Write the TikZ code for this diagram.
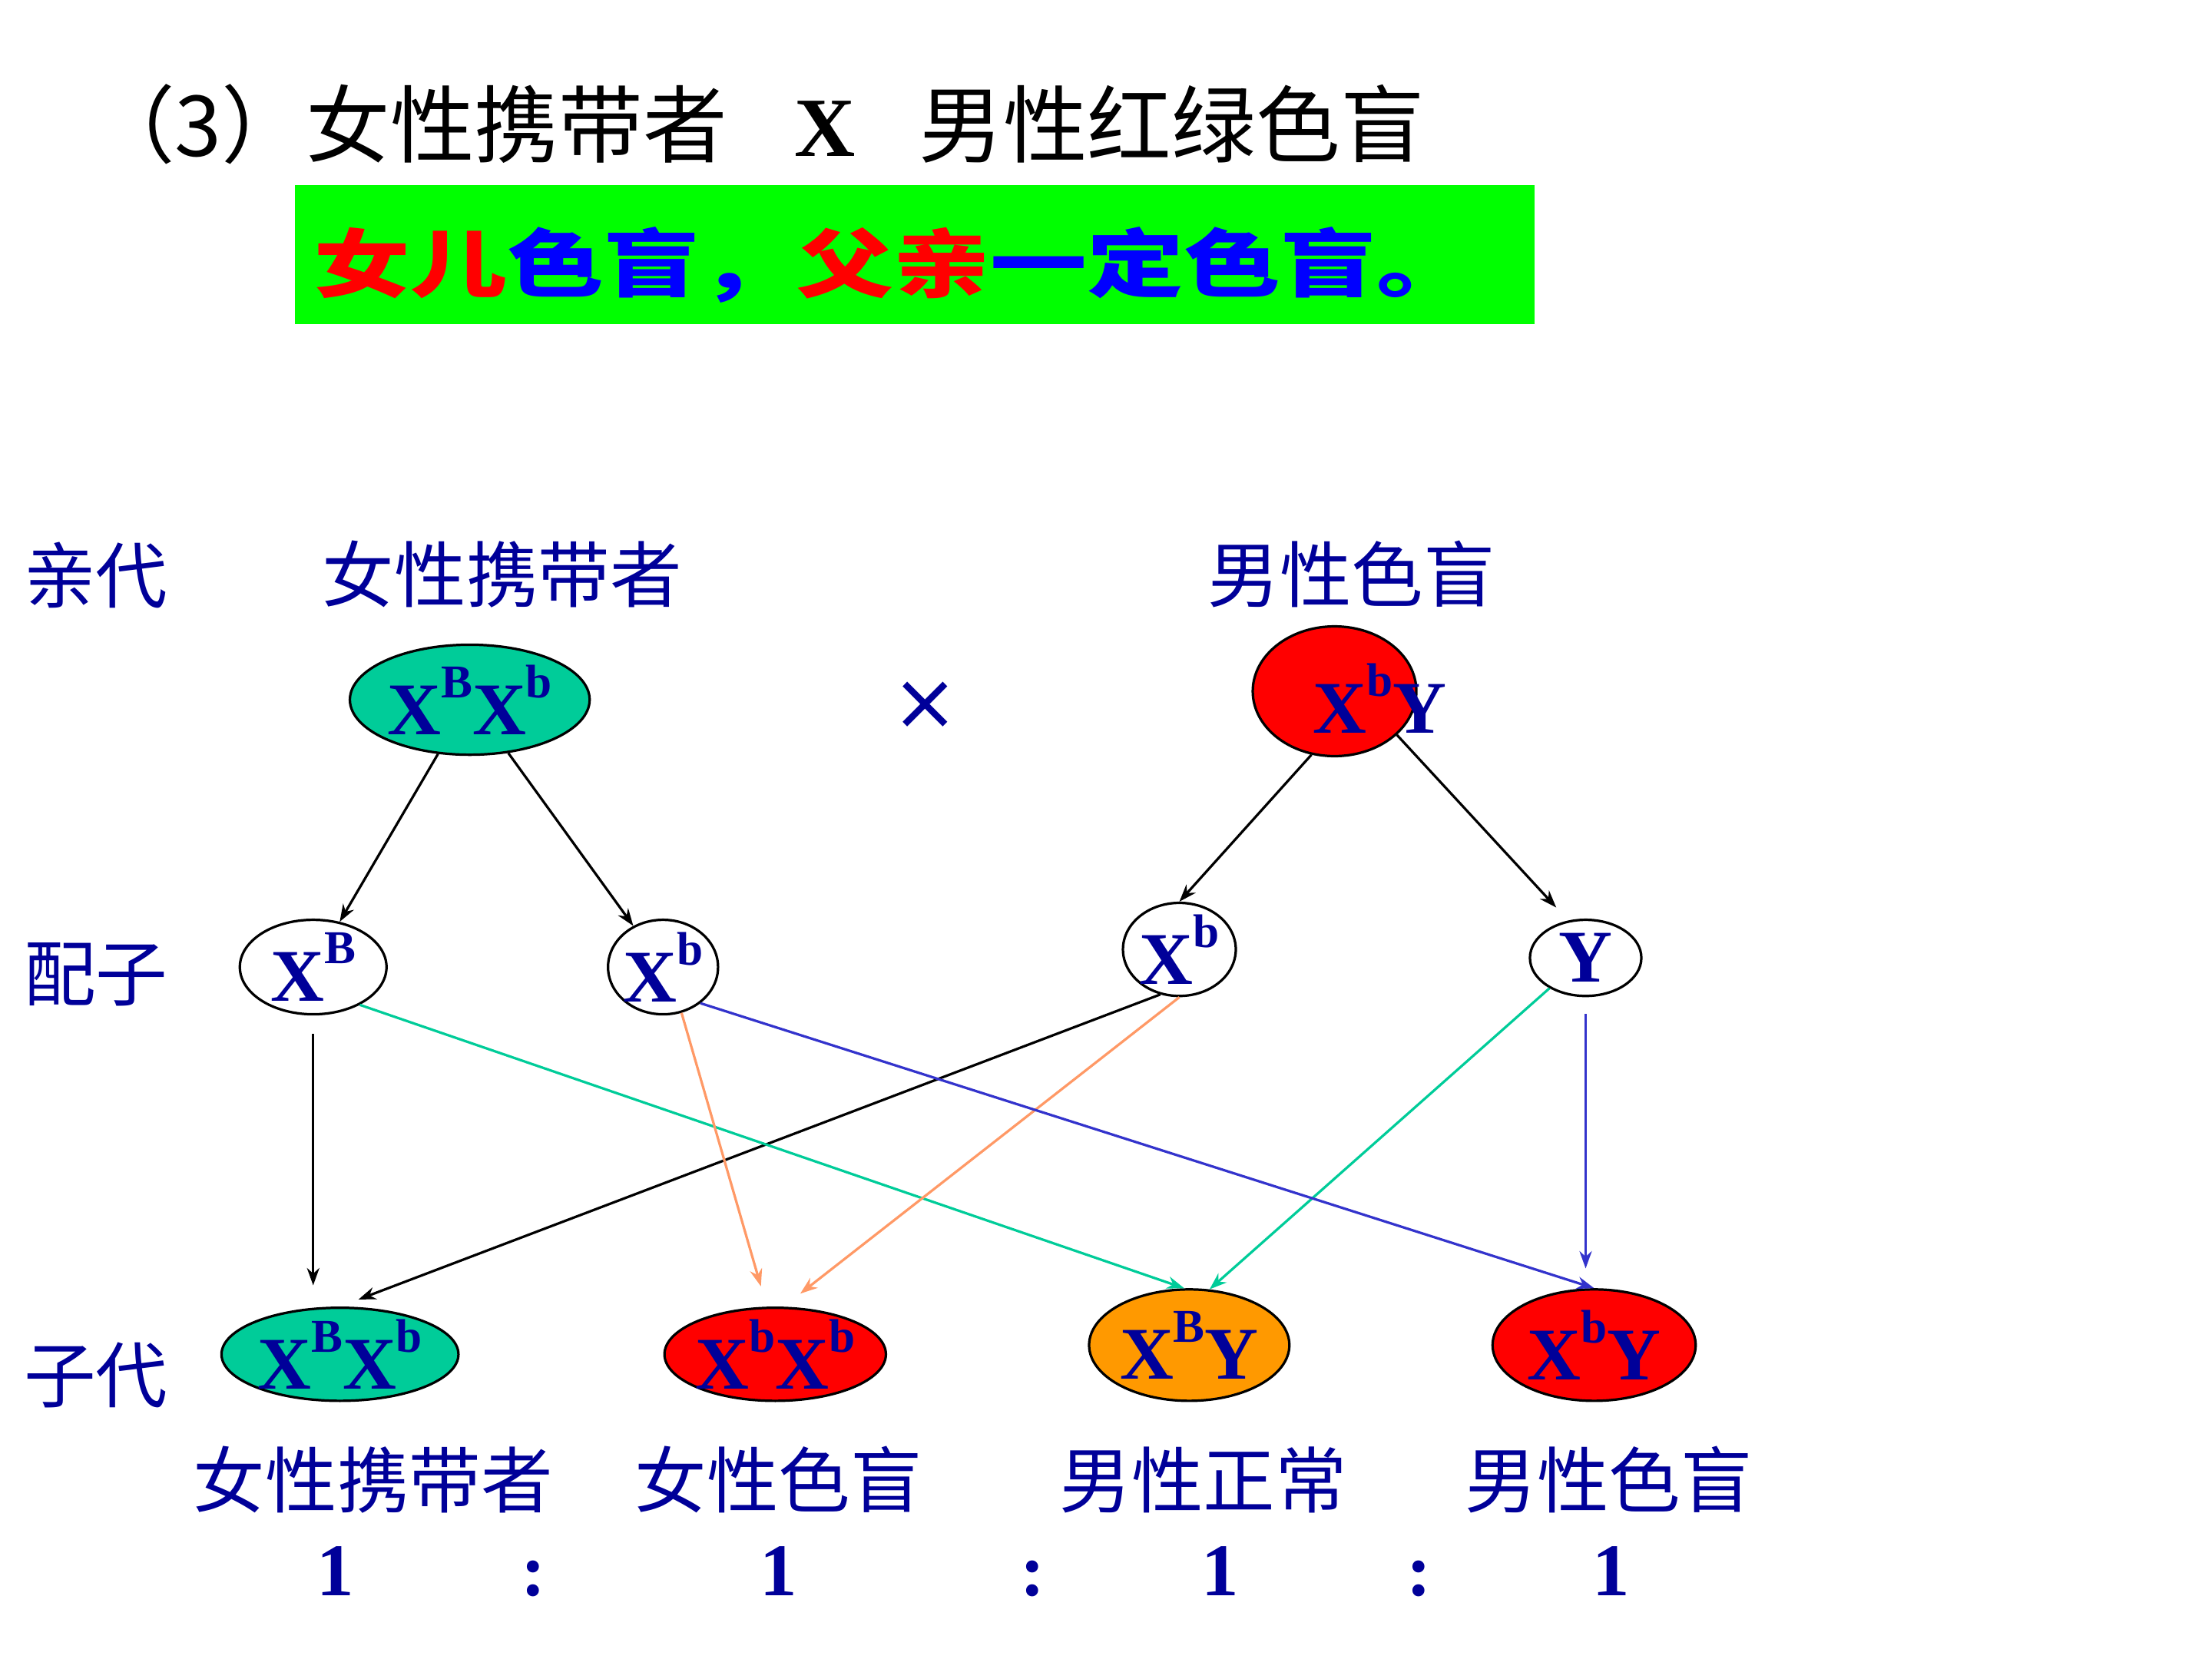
\documentclass[tikz,border=0pt]{standalone}
\usepackage{fontspec}
\setmainfont{Liberation Serif}
\newfontfamily\cjk{Noto Sans CJK SC}
\newfontfamily\boxfont{Noto Sans CJK SC}[FakeStretch=1.3]
\newfontfamily\symfont{DejaVu Sans}
\usetikzlibrary{shapes.geometric,arrows.meta}

\definecolor{navy}{RGB}{0,0,153}
\definecolor{tealfill}{RGB}{0,204,153}
\definecolor{orangefill}{RGB}{255,153,0}
\definecolor{peach}{RGB}{255,153,102}
\definecolor{indigo}{RGB}{51,51,204}
\definecolor{boxgreen}{RGB}{0,255,0}

\newcommand{\genefont}{\fontsize{30pt}{30pt}\selectfont\bfseries}
\newcommand{\sups}[1]{\raisebox{0.5em}{\fontsize{19pt}{19pt}\selectfont #1}}

\tikzset{
  gene/.style={ellipse, draw, line width=1pt, inner sep=-2pt, text=navy, font=\genefont},
  tag/.style={text=navy, font=\cjk\fontsize{29pt}{29pt}\selectfont, inner sep=0pt},
  ratio/.style={text=navy, font=\genefont, inner sep=0pt, anchor=base},
  link/.style={-{Stealth[length=7pt,width=5pt]}, line width=1pt},
}

\begin{document}
\begin{tikzpicture}[x=0.02cm, y=-0.02cm]
\useasboundingbox (0,0) rectangle (1568,1176);

% heading
\node[anchor=west, inner sep=0pt, font=\cjk\fontsize{34pt}{34pt}\selectfont] (title) at (64,88)
  {（3）女性携带者\hspace{0.8em}{\rmfamily\bfseries X}\hspace{0.75em}男性红绿色盲};
\fill[boxgreen] (209,131) rectangle (1088,230);
\node[anchor=west, inner sep=0pt, font=\boxfont\bfseries\fontsize{30pt}{30pt}\selectfont] (rule) at (222,188)
  {\textcolor{red}{女儿}\textcolor{blue}{色盲，}\textcolor{red}{父亲}\textcolor{blue}{一定色盲。}};

% row names
\node[tag] (f0) at (68,408) {亲代};
\node[tag] (f1) at (68,691) {配子};
\node[tag] (f2) at (68,975) {子代};
\node[tag] (mom) at (356,407) {女性携带者};
\node[tag] (dad) at (958,407) {男性色盲};

% parents
\node[gene, fill=tealfill, minimum width=3.4cm, minimum height=1.56cm] (p1) at (333,496) {X\sups{B}X\sups{b}};
\node[text=navy, font=\symfont\fontsize{32pt}{32pt}\selectfont, inner sep=0pt] (cross) at (656,500) {×};
\node[gene, fill=red, minimum width=2.32cm, minimum height=1.84cm] (p2) at (946,490) {};
\node[text=navy, font=\genefont, inner sep=0pt] (p2 text) at (978,495) {X\sups{b}Y};

% gametes
\node[gene, fill=white, minimum width=2.08cm, minimum height=1.34cm] (g1) at (222,685.5) {X\sups{B}};
\node[gene, fill=white, minimum width=1.56cm, minimum height=1.34cm] (g2) at (470,685.5) {X\sups{b}};
\node[gene, fill=white, minimum width=1.6cm, minimum height=1.32cm] (g3) at (836,673) {X\sups{b}};
\node[gene, fill=white, minimum width=1.58cm, minimum height=1.08cm] (g4) at (1124,679) {Y};

% offspring
\node[gene, fill=tealfill, minimum width=3.36cm, minimum height=1.32cm] (c1) at (241,960) {X\sups{B}X\sups{b}};
\node[gene, fill=red, minimum width=3.14cm, minimum height=1.32cm] (c2) at (549.5,960) {X\sups{b}X\sups{b}};
\node[gene, fill=orangefill, minimum width=2.84cm, minimum height=1.58cm] (c3) at (843,953.5) {X\sups{B}Y};
\node[gene, fill=red, minimum width=2.88cm, minimum height=1.58cm] (c4) at (1130,953.5) {X\sups{b}Y};

\node[tag] (k1) at (264.5,1049) {女性携带者};
\node[tag] (k2) at (552,1049) {女性色盲};
\node[tag] (k3) at (853,1049) {男性正常};
\node[tag] (k4) at (1140.5,1049) {男性色盲};

\node[ratio] (r1) at (238,1131) {1};
\node[ratio] (s1) at (378,1131) {:};
\node[ratio] (r2) at (552,1131) {1};
\node[ratio] (s2) at (732,1131) {:};
\node[ratio] (r3) at (865,1131) {1};
\node[ratio] (s3) at (1006,1131) {:};
\node[ratio] (r4) at (1142,1131) {1};

% meiosis
\draw[link] (p1) -- (g1);
\draw[link] (p1) -- (g2);
\draw[link] (p2.250) -- (g3.north);
\draw[link, shorten >=0.25cm] (p2.-35) -- (g4.115);

% fertilisation
\draw[link, shorten <=0.26cm, shorten >=0.3cm] (g1.south) -- (g1.south |- c1.north);
\draw[link, shorten >=0.28cm] (g3.-113) -- (c1.north);
\draw[link, tealfill] (g1.-39) -- (c3.95);
\draw[link, peach, shorten >=0.3cm] (g2.-68) -- (c2.100);
\draw[link, peach, shorten >=0.3cm] (g3.south) -- (c2.80);
\draw[link, tealfill] (g4.-140) -- (c3.70);
\draw[link, indigo, shorten <=0.24cm, shorten >=0.28cm] (g4.south) -- (g4.south |- c4.north);
\draw[link, indigo] (g2.-44) -- (c4.north);
\end{tikzpicture}
\end{document}
